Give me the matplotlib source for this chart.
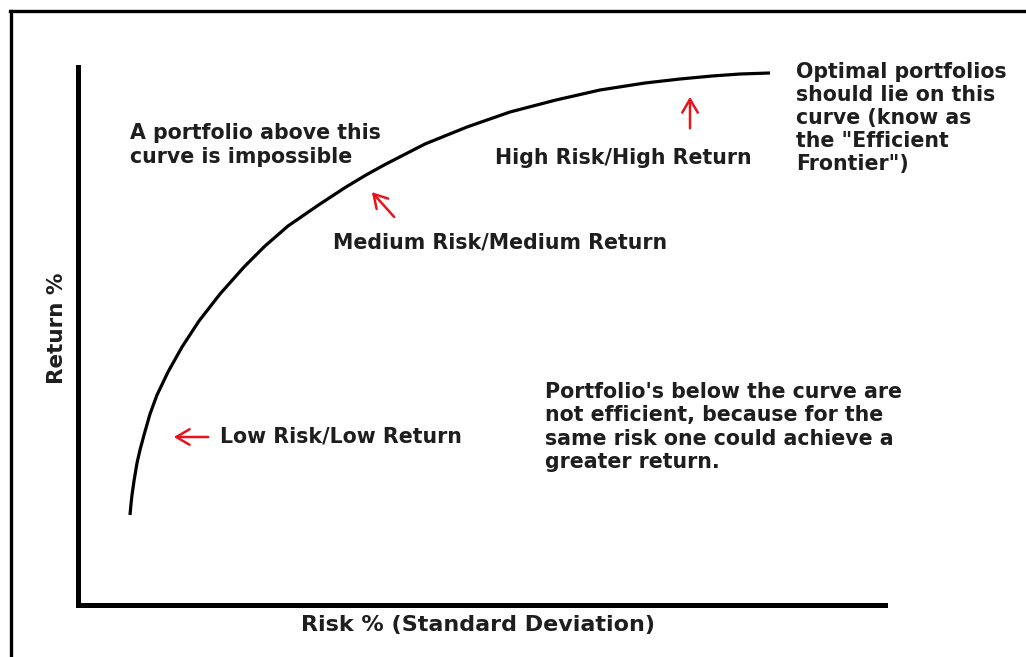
import matplotlib
matplotlib.use("Agg")
import matplotlib.pyplot as plt
from matplotlib.lines import Line2D
from matplotlib.patches import FancyArrowPatch

# ---- data (arbitrary units) ----
risk = [52, 53, 54, 56, 59, 62, 66, 72, 79, 90, 104, 121, 142, 166, 187, 210,
        242, 268, 288, 308, 347, 389, 432, 478, 522, 567, 602, 634, 662, 692]
ret = [90, 101, 110, 124, 142, 155, 170, 191, 210, 233, 258, 284, 311, 338, 359,
       379, 401, 418, 430, 441, 461, 478, 493, 505, 515, 522, 526, 529, 531, 532]

x_label = "Risk % (Standard Deviation)"
y_label = "Return %"

W, H = 1026, 657
fig = plt.figure(figsize=(W / 100, H / 100), dpi=100)
fig.patch.set_facecolor("white")

def fx(px):
    return px / W

def fy(py):
    return 1 - py / H

# axes spanning pixel box x 78..885, y 67..605
ax = fig.add_axes([fx(78), fy(605), fx(885) - fx(78), fy(67) - fy(605)])
ax.set_xlim(0, 807)
ax.set_ylim(0, 538)
for s in ["top", "right"]:
    ax.spines[s].set_visible(False)
for s in ["left", "bottom"]:
    ax.spines[s].set_linewidth(3.6)
    ax.spines[s].set_color("black")
    ax.spines[s].set_capstyle("projecting")
ax.set_xticks([])
ax.set_yticks([])
ax.patch.set_alpha(0)

ax.plot(risk, ret, color="black", lw=2.3, solid_capstyle="butt",
        solid_joinstyle="round")

font = "DejaVu Sans"
fs = 14.8
tc = "#1e1e1e"

def txt(px, py, s, ha="left", va="center", size=fs, **kw):
    fig.text(fx(px), fy(py), s, ha=ha, va=va, fontsize=size, family=font,
             weight="bold", color=tc, linespacing=1.2, **kw)

txt(130, 145, "A portfolio above this\ncurve is impossible")
txt(495, 158, "High Risk/High Return")
txt(333, 243, "Medium Risk/Medium Return")
txt(220, 437, "Low Risk/Low Return")
txt(796, 118, "Optimal portfolios\nshould lie on this\ncurve (know as\nthe \"Efficient\nFrontier\")")
txt(545, 427, "Portfolio's below the curve are\nnot efficient, because for the\nsame risk one could achieve a\ngreater return.")

txt(478, 625, x_label, ha="center", size=16)
txt(57, 328, y_label, ha="center", rotation=90, size=15.5)

# red arrows
for (x0, y0, x1, y1) in [(211, 437, 171, 437), (396, 219, 370, 190), (690, 131, 690, 94)]:
    fig.add_artist(FancyArrowPatch(
        (fx(x0), fy(y0)), (fx(x1), fy(y1)), transform=fig.transFigure,
        arrowstyle="->,head_length=6,head_width=3.5", color="#e8141b", lw=1.8,
        mutation_scale=1.6))

# frame lines (top and left)
fig.add_artist(Line2D([fx(10), 1.0], [fy(10.5), fy(10.5)], color="black", lw=2.4,
                      transform=fig.transFigure, solid_capstyle="projecting"))
fig.add_artist(Line2D([fx(11), fx(11)], [fy(10.5), 0.0], color="black", lw=2.4,
                      transform=fig.transFigure, solid_capstyle="projecting"))

fig.savefig("out.png", dpi=100, facecolor="white")
